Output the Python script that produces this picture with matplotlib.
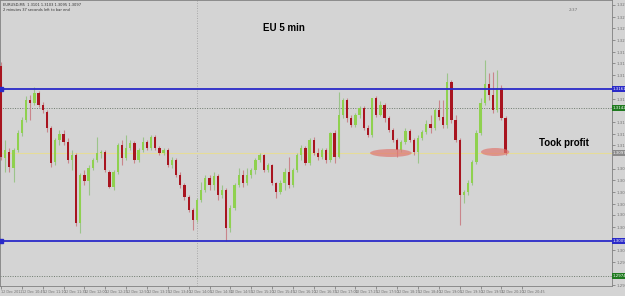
import matplotlib
matplotlib.use("Agg")
import matplotlib.pyplot as plt
from matplotlib.patches import Ellipse
import numpy as np

# ---- data (EURUSD M5 candles) ----
opens = [1.3184,1.3092,1.3098,1.3082,1.3100,1.3117,1.3130,1.3150,1.3147,1.3157,
         1.3145,1.3138,1.3122,1.3088,1.3110,1.3116,1.3108,1.3090,1.3095,1.3027,
         1.3075,1.3069,1.3082,1.3090,1.3097,1.3098,1.3078,1.3063,1.3078,1.3105,
         1.3092,1.3102,1.3107,1.3090,1.3100,1.3108,1.3102,1.3113,1.3102,1.3097,
         1.3100,1.3085,1.3090,1.3075,1.3065,1.3053,1.3040,1.3030,1.3050,1.3060,
         1.3072,1.3065,1.3074,1.3055,1.3060,1.3022,1.3042,1.3065,1.3075,1.3067,
         1.3075,1.3080,1.3090,1.3095,1.3080,1.3085,1.3067,1.3058,1.3067,1.3078,
         1.3065,1.3080,1.3095,1.3102,1.3087,1.3110,1.3097,1.3093,1.3100,1.3090,
         1.3117,1.3093,1.3135,1.3150,1.3132,1.3125,1.3135,1.3142,1.3122,1.3115,
         1.3152,1.3135,1.3145,1.3132,1.3120,1.3110,1.3100,1.3108,1.3119,1.3110,
         1.3098,1.3112,1.3118,1.3126,1.3122,1.3140,1.3133,1.3125,1.3168,1.3130,
         1.3110,1.3055,1.3058,1.3067,1.3088,1.3117,1.3147,1.3166,1.3155,1.3140,
         1.3162,1.3132]
highs = [1.3188,1.3110,1.3102,1.3102,1.3120,1.3133,1.3154,1.3155,1.3163,1.3159,
         1.3148,1.3140,1.3124,1.3112,1.3120,1.3120,1.3112,1.3100,1.3097,1.3077,
         1.3080,1.3085,1.3092,1.3113,1.3100,1.3100,1.3080,1.3080,1.3107,1.3110,
         1.3115,1.3110,1.3109,1.3102,1.3113,1.3110,1.3115,1.3115,1.3104,1.3102,
         1.3102,1.3093,1.3092,1.3078,1.3067,1.3055,1.3042,1.3052,1.3068,1.3075,
         1.3075,1.3078,1.3076,1.3065,1.3062,1.3045,1.3067,1.3082,1.3080,1.3082,
         1.3082,1.3092,1.3097,1.3096,1.3087,1.3086,1.3068,1.3070,1.3082,1.3093,
         1.3082,1.3097,1.3105,1.3104,1.3112,1.3113,1.3102,1.3102,1.3102,1.3118,
         1.3120,1.3158,1.3152,1.3152,1.3135,1.3137,1.3144,1.3144,1.3125,1.3152,
         1.3154,1.3149,1.3147,1.3134,1.3122,1.3112,1.3110,1.3122,1.3121,1.3112,
         1.3115,1.3120,1.3130,1.3135,1.3142,1.3150,1.3150,1.3177,1.3170,1.3135,
         1.3112,1.3060,1.3070,1.3090,1.3120,1.3152,1.3190,1.3177,1.3178,1.3180,
         1.3165,1.3134]
lows = [1.3090,1.3078,1.3078,1.3068,1.3098,1.3114,1.3128,1.3130,1.3145,1.3143,
        1.3137,1.3118,1.3083,1.3085,1.3105,1.3105,1.3087,1.3080,1.3024,1.3017,
        1.3065,1.3055,1.3080,1.3088,1.3092,1.3078,1.3062,1.3060,1.3076,1.3085,
        1.3090,1.3100,1.3087,1.3088,1.3098,1.3100,1.3100,1.3100,1.3095,1.3095,
        1.3083,1.3082,1.3073,1.3062,1.3050,1.3038,1.3020,1.3028,1.3048,1.3058,
        1.3060,1.3060,1.3050,1.3052,1.3009,1.3018,1.3040,1.3063,1.3063,1.3065,
        1.3072,1.3076,1.3088,1.3078,1.3078,1.3065,1.3052,1.3056,1.3060,1.3062,
        1.3063,1.3078,1.3090,1.3085,1.3085,1.3095,1.3090,1.3091,1.3087,1.3088,
        1.3087,1.3092,1.3132,1.3128,1.3123,1.3123,1.3132,1.3120,1.3113,1.3113,
        1.3133,1.3134,1.3128,1.3118,1.3108,1.3093,1.3098,1.3106,1.3108,1.3095,
        1.3087,1.3110,1.3116,1.3117,1.3120,1.3130,1.3122,1.3122,1.3127,1.3108,
        1.3025,1.3047,1.3055,1.3065,1.3086,1.3115,1.3145,1.3150,1.3137,1.3138,
        1.3130,1.3095]
closes = [1.3093,1.3100,1.3083,1.3100,1.3117,1.3130,1.3150,1.3147,1.3157,1.3145,
          1.3140,1.3122,1.3087,1.3110,1.3116,1.3108,1.3090,1.3095,1.3027,1.3075,
          1.3069,1.3082,1.3090,1.3097,1.3098,1.3080,1.3063,1.3078,1.3105,1.3092,
          1.3102,1.3107,1.3090,1.3100,1.3108,1.3102,1.3113,1.3102,1.3097,1.3100,
          1.3085,1.3090,1.3075,1.3065,1.3053,1.3040,1.3030,1.3050,1.3060,1.3072,
          1.3065,1.3074,1.3055,1.3060,1.3022,1.3042,1.3065,1.3075,1.3067,1.3075,
          1.3080,1.3090,1.3095,1.3080,1.3085,1.3067,1.3058,1.3067,1.3078,1.3065,
          1.3080,1.3095,1.3102,1.3087,1.3110,1.3097,1.3093,1.3100,1.3090,1.3117,
          1.3093,1.3135,1.3150,1.3132,1.3125,1.3135,1.3142,1.3122,1.3115,1.3152,
          1.3135,1.3145,1.3132,1.3120,1.3110,1.3100,1.3108,1.3119,1.3110,1.3098,
          1.3112,1.3118,1.3126,1.3122,1.3140,1.3133,1.3125,1.3168,1.3130,1.3110,
          1.3055,1.3058,1.3067,1.3088,1.3117,1.3147,1.3166,1.3155,1.3140,1.3162,
          1.3132,1.3097]

resistance = 1.3161       # upper blue line
support = 1.3009          # lower blue line
dotted_upper = 1.3142     # grey dotted line (green tag)
dotted_lower = 1.2974     # grey dotted line (green tag)
target_line = 1.3097      # yellow line (grey tag)
separator_bar = 47        # vertical dotted separator
ellipse_bars = [(93.5, 1.3097, 10.0), (118.5, 1.3098, 6.8)]   # (centre bar, price, width in bars)

time_labels = ["12 Dec 2012", "12 Dec 10:45", "12 Dec 11:10", "12 Dec 11:35", "12 Dec 12:00",
               "12 Dec 12:25", "12 Dec 12:50", "12 Dec 13:15", "12 Dec 13:40", "12 Dec 14:05",
               "12 Dec 14:30", "12 Dec 14:55", "12 Dec 15:20", "12 Dec 15:45", "12 Dec 16:10",
               "12 Dec 16:35", "12 Dec 17:00", "12 Dec 17:25", "12 Dec 17:50", "12 Dec 18:15",
               "12 Dec 18:40", "12 Dec 19:05", "12 Dec 19:30", "12 Dec 19:55", "12 Dec 20:20",
               "12 Dec 20:45"]
price_ticks = [1.3245, 1.3233, 1.3222, 1.3210, 1.3198, 1.3187, 1.3175, 1.3163, 1.3151,
               1.3140, 1.3128, 1.3116, 1.3105, 1.3093, 1.3081, 1.3070, 1.3058, 1.3046,
               1.3035, 1.3023, 1.3011, 1.3000, 1.2988, 1.2976, 1.2965]

# ---- figure ----
W, H = 625, 296
fig = plt.figure(figsize=(W / 100, H / 100), dpi=100)
bg = '#d4d4d4'
fig.patch.set_facecolor(bg)
ax = fig.add_axes([0 / W, 10 / H, 612 / W, 286 / H])
ax.set_facecolor(bg)

px_per_bar = 4.17
ax.set_xlim(-1 / px_per_bar, 611 / px_per_bar)
ax.set_ylim(1.3250 - 0.0286, 1.3250)

o = np.array(opens); h = np.array(highs); l = np.array(lows); c = np.array(closes)
idx = np.arange(len(o))
up = c >= o
green = '#8fd14f'
red = '#a8141f'
wick_g = '#9cc48a'
wick_r = '#c9858b'

ax.vlines(idx[up], l[up], h[up], color=wick_g, lw=0.8, zorder=3)
ax.vlines(idx[~up], l[~up], h[~up], color=wick_r, lw=0.8, zorder=3)
body_lo = np.minimum(o, c)
body_h = np.maximum(np.abs(c - o), 0.00008)
ax.bar(idx[up], body_h[up], bottom=body_lo[up], width=0.55, color=green, zorder=4, linewidth=0)
ax.bar(idx[~up], body_h[~up], bottom=body_lo[~up], width=0.55, color=red, zorder=4, linewidth=0)

# horizontal lines
ax.axhline(resistance, color='#2a2ac8', lw=1.3, zorder=5)
ax.axhline(support, color='#2a2ac8', lw=1.3, zorder=5)
ax.axhline(dotted_upper, color='#6e7a6e', lw=0.7, ls=(0, (1, 1.5)), zorder=2)
ax.axhline(dotted_lower, color='#6e7a6e', lw=0.7, ls=(0, (1, 1.5)), zorder=2)
ax.axhline(target_line, color='#e6dc98', lw=0.8, zorder=2)
ax.axvline(separator_bar, color='#9a9a9a', lw=0.6, ls=(0, (1, 2)), zorder=1)
for yv in (resistance, support):
    ax.plot([0.05], [yv], marker='s', ms=2.2, color='#2a2ac8', zorder=6, clip_on=False)

# ellipses
for cx, cy, wb in ellipse_bars:
    ax.add_patch(Ellipse((cx, cy), wb, 0.0008, facecolor='#e07870', alpha=0.7,
                         edgecolor='none', zorder=6))

# texts
ax.text(283 / px_per_bar, 1.3250 - 0.0028, "EU 5 min", fontsize=7, fontweight='bold',
        family='Liberation Sans', ha='center', va='center', zorder=7)
ax.text(563 / px_per_bar, 1.3250 - 0.0143, "Took profit", fontsize=7, fontweight='bold',
        family='Liberation Sans', ha='center', va='center', zorder=7)
fig.text(3 / W, 1 - 5 / H, "EURUSD,M5  1.3101 1.3103 1.3095 1.3097", fontsize=2.6,
         color='#303030', va='center', ha='left')
fig.text(3 / W, 1 - 10 / H, "2 minutes 37 seconds left to bar end", fontsize=2.6,
         color='#303030', va='center', ha='left')
fig.text(573 / W, 1 - 10 / H, "2:37", fontsize=3, color='#707070', va='center', ha='center')

# right price axis (tags cover the tick labels next to them, as in the terminal)
tags = ((resistance, '#2a2ac8'), (support, '#2a2ac8'), (dotted_upper, '#1f7a1f'),
        (dotted_lower, '#1f7a1f'), (target_line, '#8a8a8a'))
tag_vals = [t[0] for t in tags]
shown_ticks = [p for p in price_ticks if min(abs(p - t) for t in tag_vals) > 0.0005]
ax.yaxis.tick_right()
ax.set_yticks(shown_ticks)
ax.set_yticklabels([f"{p:.4f}" for p in shown_ticks])
ax.tick_params(axis='y', labelsize=2.8, colors='#707070', length=2, width=0.5, pad=1)
for yv, fc in tags:
    ax.text(1.001, yv, f"{yv:.4f}", transform=ax.get_yaxis_transform(), fontsize=2.8,
            color='white', va='center', ha='left', zorder=8, clip_on=False,
            bbox=dict(boxstyle='square,pad=0.25', fc=fc, ec='none'))

# bottom time axis
ax.set_xticks(np.arange(len(time_labels)) * 5)
ax.set_xticklabels(time_labels, ha='left')
ax.tick_params(axis='x', labelsize=2.4, colors='#707070', length=2, width=0.5, pad=1)

for s in ax.spines.values():
    s.set_color('#808080')
    s.set_linewidth(0.6)

fig.savefig("out.png", dpi=100, facecolor=bg)
